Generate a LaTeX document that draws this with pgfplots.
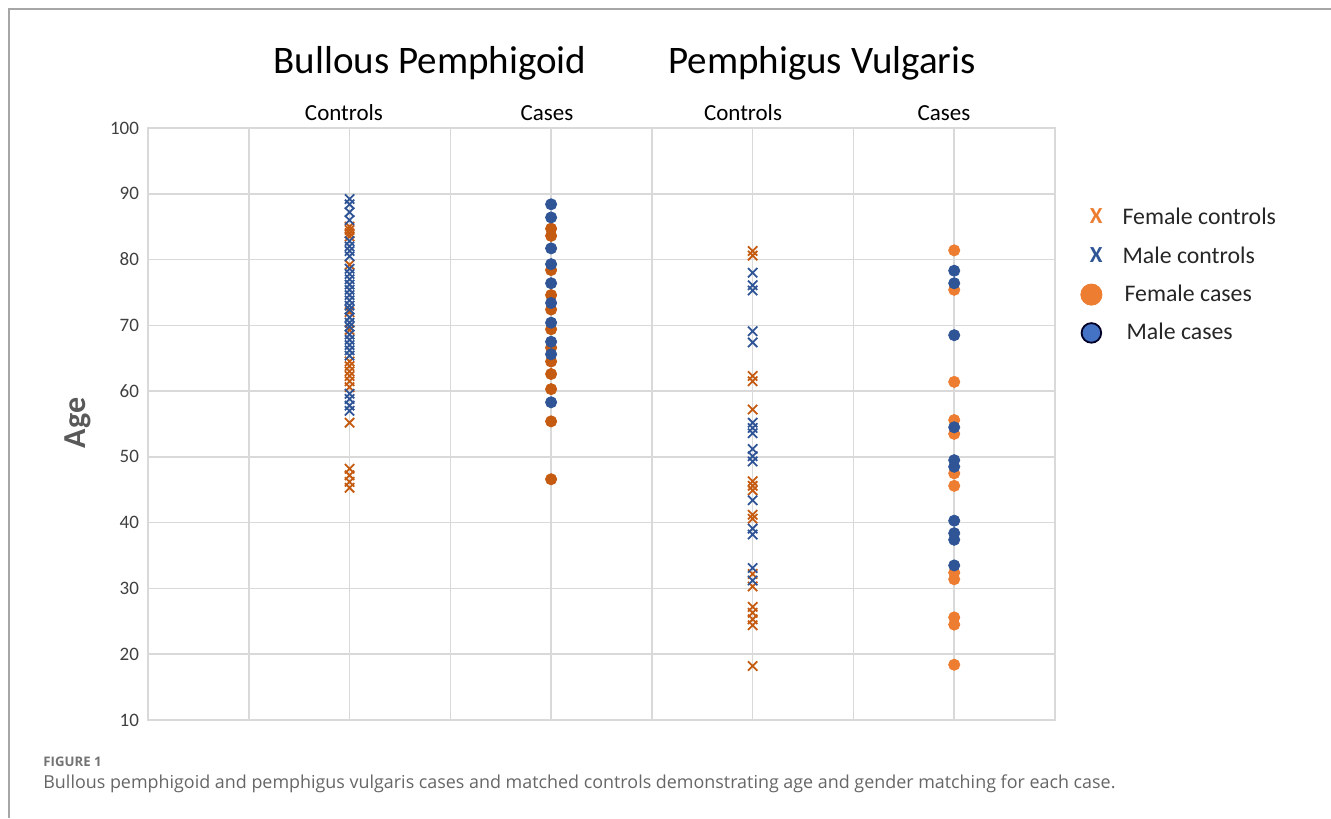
\documentclass[border=0pt]{standalone}
\usepackage{pgfplots}
\pgfplotsset{compat=1.18}
\usepackage{fontspec}
\setmainfont{Carlito}
\newfontfamily\capfont{Open Sans}
\definecolor{dorange}{HTML}{C55A11}
\definecolor{lorange}{HTML}{ED7D31}
\definecolor{dblue}{HTML}{2F5597}
\definecolor{lblue}{HTML}{4472C4}
\definecolor{gridc}{HTML}{D9D9D9}
\definecolor{txt}{HTML}{404040}
\begin{document}
\begin{tikzpicture}
\path[use as bounding box] (0,0) rectangle (665.5pt,409pt);
\draw[color=black!35, line width=0.75pt] (4.5pt,0) -- (4.5pt,404.5pt) -- (665.5pt,404.5pt);
\begin{axis}[
  at={(74pt,49pt)}, anchor=south west,
  scale only axis, width=453.5pt, height=296pt,
  xmin=0, xmax=9, ymin=10, ymax=100,
  xtick={1,...,8}, xticklabels={},
  ytick={10,20,...,100},
  major tick length=0pt,
  xmajorgrids, ymajorgrids,
  grid style={gridc, line width=0.75pt},
  axis line style={gridc, line width=0.75pt},
  tick label style={font=\fontsize{9.5}{11}\selectfont, text=txt},
  yticklabel style={xshift=-1pt},
  /pgf/number format/assume math mode=true,
  clip=false,
  legend style={at={(1.0188,0.872)}, anchor=north west, draw=none, fill=none,
    font=\fontsize{11.9}{13}\selectfont, text=black!85,
    row sep=5.4pt, inner sep=0pt,
    /tikz/every odd column/.append style={column sep=6pt}},
  legend cell align=left,
]
% legend entries
\addlegendimage{legend image code/.code={\path[draw=none,fill=none] (0,0) rectangle (0.6cm,0); \node[text=lorange, font=\bfseries\fontsize{11.5}{12}\selectfont] at (0.23cm,0) {X};}}
\addlegendentry{Female controls}
\addlegendimage{legend image code/.code={\path[draw=none,fill=none] (0,0) rectangle (0.6cm,0); \node[text=dblue, font=\bfseries\fontsize{11.5}{12}\selectfont] at (0.23cm,0) {X};}}
\addlegendentry{Male controls}
\addlegendimage{legend image code/.code={\path[draw=none,fill=none] (0,0) rectangle (0.6cm,0); \fill[lorange] (0.333cm,0) circle (5.3pt);}}
\addlegendentry{\hspace{1pt}Female cases}
\addlegendimage{legend image code/.code={\path[draw=none,fill=none] (0,0) rectangle (0.6cm,0); \filldraw[fill=lblue, draw=black!85!blue, line width=0.9pt] (0.333cm,0) circle (4.9pt);}}
\addlegendentry{\hspace{2pt}Male cases}

% BP controls female
\addplot[forget plot, only marks, mark=x, mark size=3.3pt, dorange, mark options={line width=0.9pt}] coordinates {
(2,85) (2,84.5) (2,84) (2,83.5) (2,79.2) (2,72) (2,69.3) (2,64.5) (2,63.8) (2,63) (2,62.3) (2,61.5) (2,60.6) (2,55.2) (2,48.2) (2,47.2) (2,46.2) (2,45.3)};
% BP controls male
\addplot[forget plot, only marks, mark=x, mark size=3.3pt, dblue, mark options={line width=0.9pt}] coordinates {
(2,89.2) (2,88.4) (2,87.2) (2,86) (2,82.8) (2,82) (2,81.3) (2,80.5) (2,78.6) (2,77.8) (2,77) (2,76.2) (2,75.4) (2,74.6) (2,73.8) (2,73) (2,72.4) (2,71.2) (2,70.4) (2,69.8) (2,68.6) (2,67.8) (2,67) (2,66.2) (2,65.4) (2,59.6) (2,58.8) (2,57.8) (2,57)};
% BP cases female
\addplot[forget plot, only marks, mark=*, mark size=2.8pt, dorange, mark options={draw=none, fill=dorange}] coordinates {
(4,84.7) (4,83.6) (4,78.4) (4,74.6) (4,72.4) (4,69.4) (4,66.6) (4,64.5) (4,62.6) (4,60.3) (4,55.4) (4,46.6)};
% BP cases male
\addplot[forget plot, only marks, mark=*, mark size=2.8pt, dblue, mark options={draw=none, fill=dblue}] coordinates {
(4,88.4) (4,86.4) (4,81.7) (4,79.3) (4,76.4) (4,73.4) (4,70.4) (4,67.5) (4,65.6) (4,58.3)};
% PV controls female
\addplot[forget plot, only marks, mark=x, mark size=3.3pt, dorange, mark options={line width=0.9pt}] coordinates {
(6,81.3) (6,80.6) (6,62.3) (6,61.5) (6,57.2) (6,46.3) (6,45.6) (6,44.9) (6,41.2) (6,40.6) (6,32.2) (6,30.3) (6,27.2) (6,26.3) (6,25.3) (6,24.4) (6,18.2)};
% PV controls male
\addplot[forget plot, only marks, mark=x, mark size=3.3pt, dblue, mark options={line width=0.9pt}] coordinates {
(6,78) (6,76.1) (6,75.3) (6,69.1) (6,67.4) (6,55.2) (6,54.4) (6,53.6) (6,51.2) (6,50.1) (6,49.3) (6,43.4) (6,39.1) (6,38.2) (6,33.1) (6,31.2)};
% PV cases female
\addplot[forget plot, only marks, mark=*, mark size=2.8pt, lorange, mark options={draw=none, fill=lorange}] coordinates {
(8,81.4) (8,75.4) (8,61.4) (8,55.6) (8,53.5) (8,47.5) (8,45.6) (8,32.4) (8,31.4) (8,25.6) (8,24.5) (8,18.4)};
% PV cases male
\addplot[forget plot, only marks, mark=*, mark size=2.8pt, dblue, mark options={draw=none, fill=dblue}] coordinates {
(8,78.3) (8,76.4) (8,68.5) (8,54.5) (8,49.5) (8,48.5) (8,40.3) (8,38.4) (8,37.4) (8,33.5)};
\end{axis}
\node[font=\fontsize{19.5}{22}\selectfont, text=black] at (215pt,377.5pt) {Bullous Pemphigoid};
\node[font=\fontsize{19.5}{22}\selectfont, text=black] at (411pt,377.5pt) {Pemphigus Vulgaris};
\foreach \x/\t in {172/Controls, 273.5/Cases, 371.5/Controls, 472/Cases}
  \node[font=\fontsize{11.5}{13}\selectfont, text=black] at (\x pt,352.5pt) {\t};
\node[rotate=90, font=\bfseries\fontsize{16}{18}\selectfont, text=black!65] at (39pt,197.5pt) {Age};
\node[anchor=west, inner sep=0pt, font=\capfont\bfseries\fontsize{6.6}{8}\selectfont, text=black!55] at (21.5pt,28pt) {FIGURE 1};
\node[anchor=west, inner sep=0pt, font=\capfont\fontsize{8.95}{10}\selectfont, text=black!60] at (21.5pt,17pt) {Bullous pemphigoid and pemphigus vulgaris cases and matched controls demonstrating age and gender matching for each case.};
\end{tikzpicture}
\end{document}
